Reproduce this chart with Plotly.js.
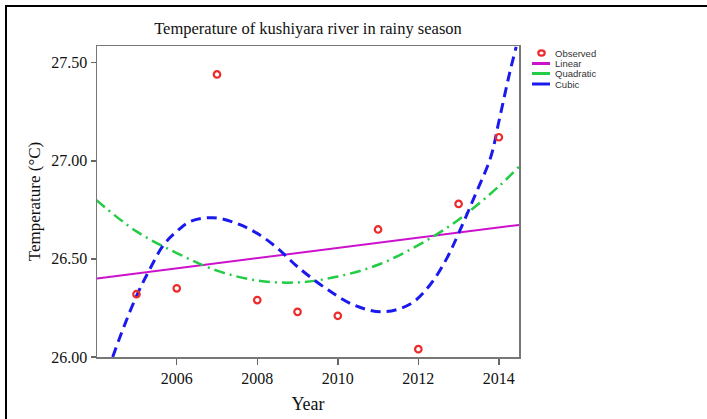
<!DOCTYPE html>
<html>
<head>
<meta charset="utf-8">
<script src="https://cdn.plot.ly/plotly-3.0.1.min.js"></script>
<style>
  html, body { margin: 0; padding: 0; background: #fff; }
  #wrap { position: relative; width: 707px; height: 419px; overflow: hidden; }
  #chart { position: absolute; left: 0; top: 0; width: 707px; height: 419px; }
  #frame { position: absolute; left: 5px; top: 5px; width: 710px; height: 420px;
           border-top: 2px solid #000; border-left: 2px solid #000; pointer-events: none; }
</style>
</head>
<body>
<div id="wrap"><div id="chart"></div><div id="frame"></div></div>
<script>
// ---- data ----
const obsYears = [2005, 2006, 2007, 2008, 2009, 2010, 2011, 2012, 2013, 2014];
const obsTemp  = [26.32, 26.35, 27.44, 26.29, 26.23, 26.21, 26.65, 26.04, 26.78, 27.12];

const linYears = [2004.02, 2014.5];
const linTemp  = [26.40, 26.673];

const quadYears = [2004.0, 2005, 2006, 2007, 2008, 2009, 2010, 2011, 2012, 2013, 2014, 2014.5];
const quadTemp  = [26.80, 26.64, 26.53, 26.44, 26.39, 26.38, 26.41, 26.47, 26.57, 26.70, 26.87, 26.97];

const cubYears = [2004.41, 2004.68, 2005.0, 2005.3, 2005.67, 2006.0, 2006.33, 2006.9, 2007.5, 2008.0,
                  2008.5, 2009.0, 2009.7, 2010.4, 2011.1, 2011.8, 2012.3, 2012.7, 2013.0, 2013.4,
                  2013.8, 2014.0, 2014.27, 2014.43];
const cubTemp  = [26.00, 26.15, 26.31, 26.435, 26.57, 26.64, 26.69, 26.71, 26.68, 26.63,
                  26.555, 26.46, 26.35, 26.265, 26.23, 26.27, 26.37, 26.50, 26.63, 26.82,
                  27.02, 27.20, 27.45, 27.58];

const xTickVals = [2006, 2008, 2010, 2012, 2014];
const yTickVals = [26.0, 26.5, 27.0, 27.5];
const yTickText = ['26.00', '26.50', '27.00', '27.50'];

const legendLabels = ['Observed', 'Linear', 'Quadratic', 'Cubic'];

// ---- styles ----
const C_OBS = '#ee2a2a', C_LIN = '#cc11cc', C_QUAD = '#22cc44', C_CUB = '#1a1aee';
const SERIF = '"Liberation Serif", "Times New Roman", serif';
const SANS = '"Liberation Sans", Arial, sans-serif';
const W = 707, H = 419, ML = 97, MR = 188, MT = 46, MB = 62;
const PW = W - ML - MR, PH = H - MT - MB;
const px = x => (x - ML) / PW;
const py = y => (H - MB - y) / PH;

const traces = [
  { x: linYears, y: linTemp, mode: 'lines', line: { color: C_LIN, width: 2 }, hoverinfo: 'skip' },
  { x: quadYears, y: quadTemp, mode: 'lines', line: { color: C_QUAD, width: 2.5, shape: 'spline', dash: '11px,5px,2px,5px' }, hoverinfo: 'skip' },
  { x: cubYears, y: cubTemp, mode: 'lines', line: { color: C_CUB, width: 3, shape: 'spline', dash: '10px,6px' }, hoverinfo: 'skip' },
  { x: obsYears, y: obsTemp, mode: 'markers', marker: { symbol: 'circle-open', size: 6.5, color: C_OBS, line: { width: 2.2, color: C_OBS } } }
];

// custom compact legend (labels from legendLabels)
const legColors = [C_OBS, C_LIN, C_QUAD, C_CUB];
const legRowsY = [53, 63.5, 73.5, 84];
const annotations = legendLabels.map((t, i) => ({
  text: t, xref: 'paper', yref: 'paper', x: px(553), y: py(legRowsY[i]),
  xanchor: 'left', yanchor: 'middle', showarrow: false,
  font: { family: SANS, size: 9.5, color: '#333' }
}));
const shapes = [];
shapes.push({ type: 'circle', xref: 'paper', yref: 'paper', xsizemode: 'pixel', ysizemode: 'pixel',
  xanchor: px(541.5), yanchor: py(legRowsY[0]), x0: -3.2, x1: 3.2, y0: -2.6, y1: 2.6,
  line: { color: C_OBS, width: 2.2 } });
for (let i = 1; i < 4; i++) {
  shapes.push({ type: 'line', xref: 'paper', yref: 'paper', x0: px(532), x1: px(550),
    y0: py(legRowsY[i]), y1: py(legRowsY[i]), line: { color: legColors[i], width: 3 } });
}

const layout = {
  width: W, height: H,
  margin: { l: ML, r: MR, t: MT, b: MB },
  paper_bgcolor: '#fff', plot_bgcolor: '#fff',
  showlegend: false,
  title: { text: 'Temperature of kushiyara river in rainy season', x: 0.5, xref: 'paper',
           y: 1 - 28 / H, yref: 'container', yanchor: 'middle',
           font: { family: SERIF, size: 16.5, color: '#111' } },
  xaxis: {
    range: [2004.02, 2014.5], tickvals: xTickVals, ticks: 'outside', ticklen: 6, tickwidth: 1.5,
    tickcolor: '#666', showgrid: false, zeroline: false, showline: true, linecolor: '#777',
    linewidth: 1.5, mirror: true,
    tickfont: { family: SERIF, size: 16, color: '#111' },
    title: { text: 'Year', standoff: 11, font: { family: SERIF, size: 18, color: '#111' } }
  },
  yaxis: {
    range: [26.0, 27.585], tickvals: yTickVals, ticktext: yTickText, ticks: 'outside', ticklen: 5,
    tickwidth: 1.5, tickcolor: '#666', showgrid: false, zeroline: false, showline: true,
    linecolor: '#777', linewidth: 1.5, mirror: true,
    tickfont: { family: SERIF, size: 16, color: '#111' },
    title: { text: 'Temperature (°C)', standoff: 6, font: { family: SERIF, size: 17, color: '#111' } }
  },
  annotations: annotations,
  shapes: shapes
};

Plotly.newPlot('chart', traces, layout, { staticPlot: true, displayModeBar: false });
</script>
</body>
</html>
